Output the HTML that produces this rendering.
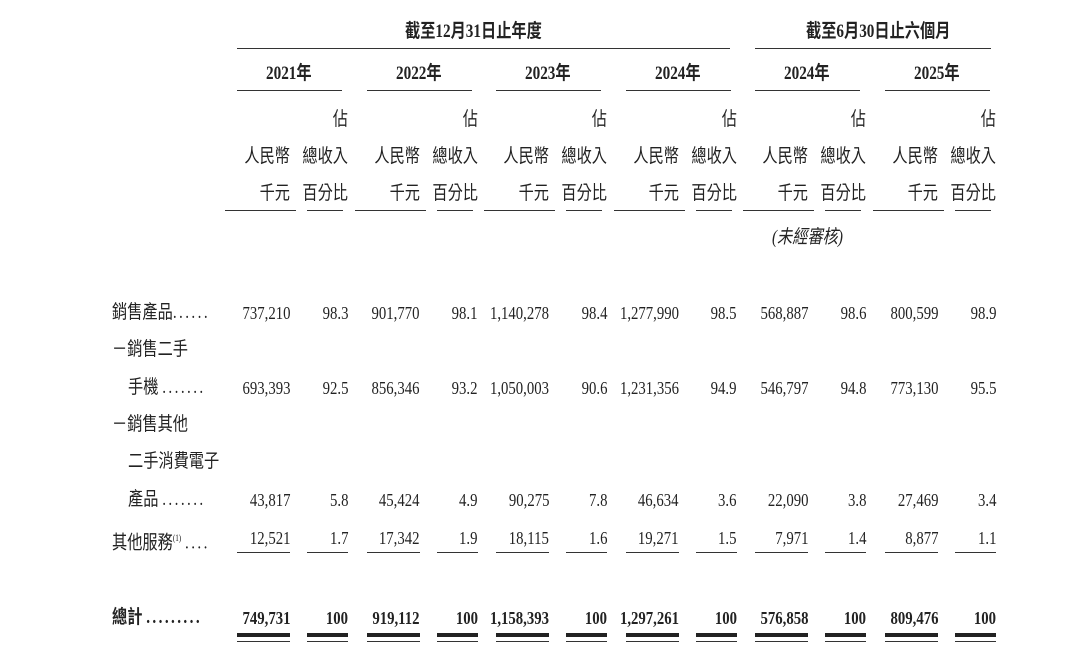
<!DOCTYPE html>
<html><head><meta charset="utf-8"><style>
body{margin:0;background:#fff;width:1085px;height:668px;position:relative;overflow:hidden;color:#222}
.t{position:absolute;line-height:22px;height:22px;white-space:nowrap;font-family:"Liberation Serif","Noto Sans CJK TC",serif;font-size:18px;transform:scaleX(0.82);transform-origin:right center}
.c{font-family:"Liberation Serif","Noto Sans CJK TC",sans-serif;font-size:19px;transform:scaleX(0.8)}
.l{transform-origin:left center}
.b{font-weight:bold}
.d{letter-spacing:3px}
.ln{position:absolute;height:1px;background:#333}
.tk{position:absolute;height:4px;background:#222}
</style></head><body>
<div class="t c b" style="left:405px;top:21px;transform-origin:left center">截至12月31日止年度</div>
<div class="t c b" style="left:806px;top:21px;transform-origin:left center">截至6月30日止六個月</div>
<div class="ln" style="left:237px;width:493px;top:48px"></div>
<div class="ln" style="left:755px;width:236px;top:48px"></div>
<div id="g"></div>
<div class="t c l" style="left:112px;top:302px">銷售產品<span class="d">......</span></div>
<div class="t c l" style="left:112px;top:339px">－銷售二手</div>
<div class="t c l" style="left:128px;top:377px">手機 <span class="d">.......</span></div>
<div class="t c l" style="left:112px;top:414px">－銷售其他</div>
<div class="t c l" style="left:128px;top:451px">二手消費電子</div>
<div class="t c l" style="left:128px;top:489px">產品 <span class="d">.......</span></div>
<div class="t c l" style="left:112px;top:527px">其他服務<sup style="font-size:9px">(1)</sup> <span class="d">....</span></div>
<div class="t c l b" style="left:112px;top:607px">總計 <span class="d">.........</span></div>
<div class="t c" style="left:772px;top:227px;font-style:italic;transform-origin:left center">(未經審核)</div>
<script>
var off=[0,129.6,259.2,388.8,518.4,648];
var years=["2021年","2022年","2023年","2024年","2024年","2025年"];
var rows=[[313,["737,210","98.3","901,770","98.1","1,140,278","98.4","1,277,990","98.5","568,887","98.6","800,599","98.9"]],
[388,["693,393","92.5","856,346","93.2","1,050,003","90.6","1,231,356","94.9","546,797","94.8","773,130","95.5"]],
[500,["43,817","5.8","45,424","4.9","90,275","7.8","46,634","3.6","22,090","3.8","27,469","3.4"]],
[538,["12,521","1.7","17,342","1.9","18,115","1.6","19,271","1.5","7,971","1.4","8,877","1.1"]]];
var tot=["749,731","100","919,112","100","1,158,393","100","1,297,261","100","576,858","100","809,476","100"];
var h="";
function t(x,y,s,cls){h+='<div class="t '+(cls||"")+'" style="right:'+(1085-x)+'px;top:'+(y-11)+'px">'+s+'</div>';}
function ln(x1,x2,y,c){h+='<div class="'+(c||"ln")+'" style="left:'+x1+'px;width:'+(x2-x1)+'px;top:'+y+'px"></div>';}
for(var i=0;i<6;i++){var o=off[i];
 h+='<div class="t c b" style="left:'+(266+o)+'px;top:63px;transform-origin:left center">'+years[i]+'</div>';
 ln(237+o,342+o,90);
 t(348+o,120,"佔","c");t(290+o,157,"人民幣","c");t(348+o,157,"總收入","c");
 t(290+o,194,"千元","c");t(348+o,194,"百分比","c");
 ln(225+o,296+o,210);ln(307+o,343+o,210);
 rows.forEach(function(r){t(290+o,r[0],r[1][2*i]);t(348+o,r[0],r[1][2*i+1]);});
 ln(237+o,290+o,552);ln(307+o,348+o,552);
 t(290+o,618,tot[2*i],"b");t(348+o,618,tot[2*i+1],"b");
 ln(237+o,290+o,633,"tk");ln(307+o,348+o,633,"tk");
 ln(237+o,290+o,641);ln(307+o,348+o,641);
}
document.getElementById("g").innerHTML=h;
</script>
</body></html>
